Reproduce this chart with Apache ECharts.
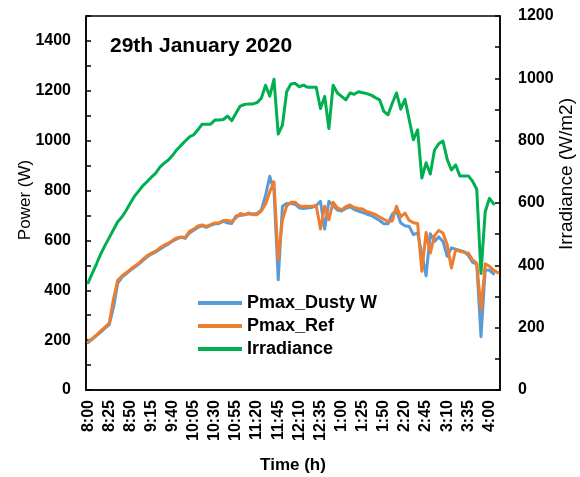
<!DOCTYPE html>
<html>
<head>
<meta charset="utf-8">
<script src="https://cdn.jsdelivr.net/npm/echarts@6/dist/echarts.min.js"></script>
<style>
  html, body { margin: 0; padding: 0; background: #fff; }
  #chart { width: 580px; height: 477px; }
</style>
</head>
<body>
<div id="chart"></div>
<script>
// Sampling times (12-hour clock, every 5 min)
const times = [
  "8:00","8:05","8:10","8:15","8:20","8:25","8:30","8:35","8:40","8:45","8:50","8:55",
  "9:00","9:05","9:10","9:15","9:20","9:25","9:30","9:35","9:40","9:45","9:50","9:55",
  "10:00","10:05","10:10","10:15","10:20","10:25","10:30","10:35","10:40","10:45","10:50","10:55",
  "11:00","11:05","11:10","11:15","11:20","11:25","11:30","11:35","11:40","11:45","11:50","11:55",
  "12:00","12:05","12:10","12:15","12:20","12:25","12:30","12:35","12:40","12:45","12:50","12:55",
  "1:00","1:05","1:10","1:15","1:20","1:25","1:30","1:35","1:40","1:45","1:50","1:55",
  "2:00","2:05","2:15","2:20","2:25","2:30","2:35","2:40","2:45","2:50","2:55",
  "3:00","3:05","3:10","3:15","3:20","3:25","3:30","3:35","3:40","3:45","3:50","3:55",
  "4:00","4:05","4:10"
];

// Maximum power of the dusty module (W)
const pmaxDusty = [
  190,204,218,232,248,262,330,428,452,466,480,492,
  505,520,534,545,554,565,576,585,597,606,612,608,
  630,641,652,658,652,660,666,668,676,670,668,698,
  700,703,706,706,708,722,780,857,800,442,737,748,
  748,745,730,728,730,732,740,757,646,757,740,722,
  718,728,735,724,718,712,705,700,690,680,667,667,
  705,720,670,659,656,623,630,545,458,627,596,
  614,596,536,570,565,560,555,540,512,505,214,482,
  480,466,null
];

// Maximum power of the reference (clean) module (W)
const pmaxRef = [
  194,207,221,237,252,268,365,440,457,470,484,496,
  508,525,539,549,557,570,581,589,600,610,614,612,
  636,645,658,662,656,663,670,671,680,680,676,690,
  708,703,710,703,703,718,745,795,835,522,683,737,
  753,753,738,737,737,737,740,646,737,683,753,730,
  723,735,742,732,728,726,715,710,704,694,685,676,
  678,737,694,710,680,671,668,476,632,549,619,
  640,630,583,489,563,556,552,549,522,509,322,506,
  496,480,471
];

// Solar irradiance (W/m2)
const irradiance = [
  344,375,405,437,464,489,514,540,555,576,600,622,
  639,656,669,683,696,715,728,738,753,771,785,799,
  812,819,835,853,853,853,866,866,868,879,864,888,
  911,916,918,918,922,936,978,943,997,821,850,957,
  982,984,973,978,971,971,971,903,942,839,978,953,
  942,931,953,949,957,954,951,946,938,931,894,883,
  920,953,901,933,868,803,835,680,729,693,770,
  790,799,740,706,722,687,687,687,670,644,374,572,
  615,597,null
];

const seriesNames = ["Pmax_Dusty W", "Pmax_Ref", "Irradiance"];
const seriesColors = ["#5B9BD5", "#ED7D31", "#00B050"];

const FONT = "'Liberation Sans', Arial, sans-serif";

const chart = echarts.init(document.getElementById('chart'), null, { renderer: 'canvas' });

function lineSeries(name, data, color, axisIndex) {
  return {
    name: name,
    type: 'line',
    data: data,
    yAxisIndex: axisIndex,
    showSymbol: false,
    symbol: 'none',
    smooth: false,
    connectNulls: false,
    lineStyle: { color: color, width: 3, join: 'round', cap: 'round' },
    itemStyle: { color: color },
    animation: false
  };
}

chart.setOption({
  backgroundColor: '#fff',
  animation: false,
  title: {
    text: '29th January 2020',
    left: 110,
    top: 36,
    padding: 0,
    textStyle: { fontFamily: FONT, fontWeight: 'bold', fontSize: 21, color: '#000' }
  },
  legend: {
    orient: 'vertical',
    left: 198,
    top: 294,
    padding: 0,
    itemGap: 5,
    icon: 'rect',
    itemWidth: 44,
    itemHeight: 4,
    data: seriesNames,
    textStyle: { fontFamily: FONT, fontWeight: 'bold', fontSize: 18, color: '#000' }
  },
  grid: {
    left: 86, right: 80, top: 16, bottom: 87,
    show: true,
    borderColor: '#000',
    borderWidth: 1.5,
    backgroundColor: 'transparent'
  },
  xAxis: {
    type: 'category',
    data: times,
    boundaryGap: true,
    axisLine: { lineStyle: { color: '#000', width: 1.5 } },
    axisTick: { inside: true, length: 5, interval: 4, alignWithLabel: true, lineStyle: { color: '#000', width: 1.5 } },
    axisLabel: {
      interval: 4, rotate: 90, margin: 10,
      fontFamily: FONT, fontWeight: 'bold', fontSize: 16, color: '#000'
    },
    splitLine: { show: false }
  },
  yAxis: [
    {
      type: 'value',
      min: 0, max: 1500, interval: 100,
      position: 'left',
      axisLine: { show: true, lineStyle: { color: '#000', width: 1.5 } },
      axisTick: { show: true, inside: true, length: 5, lineStyle: { color: '#000', width: 1.5 } },
      axisLabel: {
        margin: 15,
        fontFamily: FONT, fontWeight: 'bold', fontSize: 16, color: '#000',
        formatter: v => (v % 200 === 0 ? String(v) : '')
      },
      splitLine: { show: false }
    },
    {
      type: 'value',
      min: 0, max: 1200, interval: 100,
      position: 'right',
      axisLine: { show: true, lineStyle: { color: '#000', width: 1.5 } },
      axisTick: { show: true, inside: true, length: 5, lineStyle: { color: '#000', width: 1.5 } },
      axisLabel: {
        margin: 18,
        fontFamily: FONT, fontWeight: 'bold', fontSize: 16, color: '#000',
        formatter: v => (v % 200 === 0 ? String(v) : '')
      },
      splitLine: { show: false }
    }
  ],
  graphic: [
    {
      type: 'text', x: 25, y: 200, rotation: Math.PI / 2,
      style: { text: 'Power (W)', fontFamily: FONT, fontSize: 17, fill: '#000', align: 'center', verticalAlign: 'middle' }
    },
    {
      type: 'text', x: 567, y: 174, rotation: Math.PI / 2,
      style: { text: 'Irradiance (W/m2)', fontFamily: FONT, fontSize: 19, fill: '#000', align: 'center', verticalAlign: 'middle' }
    },
    {
      type: 'text', x: 293, y: 465,
      style: { text: 'Time (h)', fontFamily: FONT, fontWeight: 'bold', fontSize: 17, fill: '#000', align: 'center', verticalAlign: 'middle' }
    }
  ],
  series: [
    lineSeries(seriesNames[0], pmaxDusty, seriesColors[0], 0),
    lineSeries(seriesNames[1], pmaxRef, seriesColors[1], 0),
    lineSeries(seriesNames[2], irradiance, seriesColors[2], 1)
  ]
});
</script>
</body>
</html>
